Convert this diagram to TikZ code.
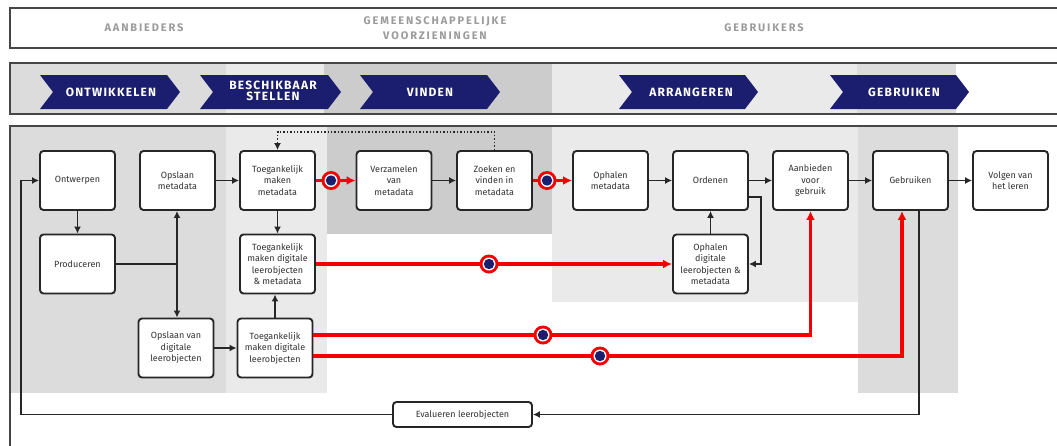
\documentclass[tikz,border=0pt]{standalone}
\usepackage{fontspec}
\setmainfont{Fira Sans}
\newfontfamily\hdrfont[LetterSpace=17]{Fira Sans}
\newfontfamily\chevfont[LetterSpace=10]{Fira Sans}
\usetikzlibrary{arrows.meta}
\definecolor{navy}{RGB}{27,30,110}
\definecolor{bgA}{RGB}{220,220,220}
\definecolor{bgB}{RGB}{234,234,234}
\definecolor{bgC}{RGB}{204,204,204}
\definecolor{txt}{RGB}{50,50,50}
\definecolor{hdr}{RGB}{155,155,155}
\definecolor{frame}{RGB}{70,70,70}
\definecolor{redl}{RGB}{245,0,0}
\begin{document}
\begin{tikzpicture}[x=1pt,y=-1pt,
  box/.style={draw=black!85, line width=1.9pt, rounded corners=3.5pt, fill=white, minimum width=75pt, minimum height=59pt, align=center, font=\fontsize{9}{11.5}\selectfont, text=txt, inner sep=1pt},
  arr/.style={draw=black!85, line width=1.5pt, -{Latex[length=7pt,width=7pt]}},
  ln/.style={draw=black!85, line width=1.5pt},
  rarr/.style={draw=redl, line width=3.2pt, -{Latex[length=9pt,width=9pt]}},
  hdrtxt/.style={text=hdr, font=\hdrfont\bfseries\fontsize{11}{15}\selectfont, align=center},
  chevtxt/.style={text=white, font=\chevfont\bfseries\fontsize{12}{11}\selectfont, align=center, inner sep=0pt},
  mk/.pic={\fill[redl] (0,0) circle (9.5pt); \fill[white] (0,0) circle (6.5pt); \fill[navy] (0,0) circle (5.2pt);}
]
\useasboundingbox (0,0) rectangle (1057,445);
\clip (0,0) rectangle (1057,445);
% chevron row backgrounds
\fill[bgA] (10,63) rectangle (226,114);
\fill[bgB] (226,63) rectangle (324,114);
\fill[bgC] (324,63) rectangle (552,114);
\fill[bgB] (552,63) rectangle (857,114);
\fill[bgA] (857,63) rectangle (956,114);
% main backgrounds
\fill[bgA] (10,126) rectangle (226,393);
\fill[bgB] (226,126) rectangle (327,393);
\fill[bgC] (327,126) rectangle (552,234);
\fill[bgB] (552,126) rectangle (858,302);
\fill[bgA] (858,126) rectangle (958,393);
% frames
\draw[frame, line width=1.1pt] (1065,8) -- (10,8) -- (10,48) -- (1065,48);
\draw[frame, line width=1.1pt] (1065,63) -- (10,63) -- (10,114) -- (1065,114);
\draw[frame, line width=1.1pt] (1065,126) -- (10,126) -- (10,450);
% headers
\node[hdrtxt] (h1) at (144,28) {AANBIEDERS};
\node[hdrtxt] (h2) at (435,28) {GEMEENSCHAPPELIJKE\\VOORZIENINGEN};
\node[hdrtxt] (h3) at (764,28) {GEBRUIKERS};
% chevrons
\fill[navy] (40,75) -- (167,75) -- (180,92) -- (167,109) -- (40,109) -- (53,92) -- cycle;
\node[chevtxt] (c1) at (111,92) {ONTWIKKELEN};
\fill[navy] (200,75) -- (328,75) -- (341,92) -- (328,109) -- (200,109) -- (213,92) -- cycle;
\node[chevtxt] (c2) at (273,91) {BESCHIKBAAR\\STELLEN};
\fill[navy] (360,75) -- (487,75) -- (500,92) -- (487,109) -- (360,109) -- (373,92) -- cycle;
\node[chevtxt] (c3) at (430,92) {VINDEN};
\fill[navy] (619,75) -- (745,75) -- (758,92) -- (745,109) -- (619,109) -- (632,92) -- cycle;
\node[chevtxt] (c4) at (691,92) {ARRANGEREN};
\fill[navy] (830,75) -- (956,75) -- (969,92) -- (956,109) -- (830,109) -- (843,92) -- cycle;
\node[chevtxt] (c5) at (904,92) {GEBRUIKEN};
% nodes
\node[box] (ontw) at (77.5,180.5) {Ontwerpen};
\node[box] (opsm) at (177.5,180.5) {Opslaan\\metadata};
\node[box] (tmm) at (277.5,180.5) {Toegankelijk\\maken\\metadata};
\node[box] (verz) at (394,180.5) {Verzamelen\\van\\metadata};
\node[box] (zoek) at (494.5,180.5) {Zoeken en\\vinden in\\metadata};
\node[box] (ophm) at (610.5,180.5) {Ophalen\\metadata};
\node[box] (ord) at (710.5,180.5) {Ordenen};
\node[box] (aanb) at (810.5,180.5) {Aanbieden\\voor\\gebruik};
\node[box] (gebr) at (910.5,180.5) {Gebruiken};
\node[box] (volg) at (1010.5,180.5) {Volgen van\\het leren};
\node[box] (prod) at (77.5,264) {Produceren};
\node[box] (tmdlm) at (277.5,264) {Toegankelijk\\maken digitale\\leerobjecten\\\& metadata};
\node[box] (ophd) at (710.5,264) {Ophalen\\digitale\\leerobjecten \&\\metadata};
\node[box] (opsd) at (176,348) {Opslaan van\\digitale\\leerobjecten};
\node[box] (tmdl) at (275,348) {Toegankelijk\\maken digitale\\leerobjecten};
\node[box, minimum width=139pt, minimum height=25pt] (eval) at (462.5,414.5) {Evalueren leerobjecten};
% black connectors
\draw[arr] (ontw) -- (prod);
\draw[ln] (prod.east) -- (177,264) coordinate (j);
\draw[arr] (j) -- (j |- opsm.south);
\draw[arr] (j) -- (j |- opsd.north);
\draw[arr] (opsm) -- (tmm);
\draw[arr] (tmm) -- (tmdlm);
\draw[arr] (opsd) -- (tmdl);
\draw[arr] (tmdl.north) -- (tmdl.north |- tmdlm.south);
\draw[arr] (verz) -- (zoek);
\draw[arr] (ophm) -- (ord);
\draw[arr] (ord) -- (aanb);
\draw[arr] (aanb) -- (gebr);
\draw[arr] (gebr) -- (volg);
\draw[arr] (ophd) -- (ord);
\draw[arr] ([yshift=-16.5pt]ord.east) -- ++(12,0) |- (ophd.east);
\draw[arr] ([xshift=8.5pt]gebr.south) |- (eval.east);
\draw[arr] (eval.west) -| ([xshift=-18pt]ontw.west) -- (ontw.west);
\draw[ln, line width=1.4pt, dotted, -{Latex[length=7pt,width=7pt]}] (zoek.north) -- ++(0,-18) -| (tmm.north);
% red connectors
\draw[rarr] (tmm.east) -- (verz.west);
\pic at (331,180.5) {mk};
\draw[rarr] (zoek.east) -- (ophm.west);
\pic at (547,180.5) {mk};
\draw[rarr] (tmdlm.east) -- (ophd.west);
\pic at (489,264) {mk};
\draw[rarr] ([yshift=13pt]tmdl.east) -| (aanb.south);
\pic at (543,335) {mk};
\draw[rarr] ([yshift=-8pt]tmdl.east) -| ([xshift=-8.5pt]gebr.south);
\pic at (600,356) {mk};
\end{tikzpicture}
\end{document}
